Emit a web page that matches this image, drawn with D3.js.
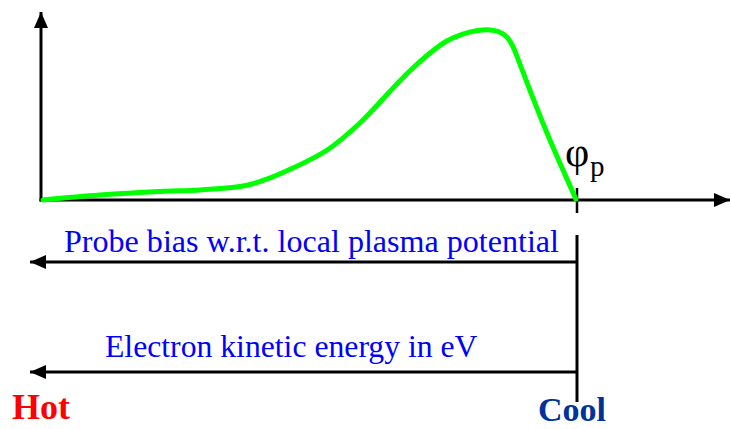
<!DOCTYPE html>
<html>
<head>
<meta charset="utf-8">
<script src="https://cdn.jsdelivr.net/npm/d3@7"></script>
<style>
  html, body { margin: 0; padding: 0; background: #fff; }
  svg { display: block; }
  text { font-family: "Liberation Serif", "Times New Roman", serif; }
</style>
</head>
<body>
<svg id="chart" width="730" height="429"></svg>
<script>
// Relative probe bias (0 = far negative, 100 = plasma potential φp)
const biasValues = [0.37, 11.0, 22.2, 29.7, 37.1, 41.2, 47.0, 53.4, 59.5, 65.7, 68.8, 72.6, 75.7, 78.7, 81.5, 83.8, 85.3, 86.9, 88.0, 89.0, 91.2, 94.4, 99.8];
// Relative electron energy distribution (peak = 100)
const eedfValues = [0, 2.9, 5.0, 5.9, 7.9, 11.2, 18.8, 29.4, 45.3, 65.9, 75.9, 86.5, 93.5, 97.6, 99.7, 100, 99.1, 95.9, 90.6, 82.9, 64.7, 39.4, 0.5];
const labels = {
  probe: "Probe bias w.r.t. local plasma potential",
  energy: "Electron kinetic energy in eV",
  hot: "Hot",
  cool: "Cool",
  phi: "φ",
  phiSub: "p"
};

const svg = d3.select("#chart");
const x = d3.scaleLinear().domain([0, 100]).range([41, 577]);
const y = d3.scaleLinear().domain([0, 100]).range([200, 30]);

const defs = svg.append("defs");
defs.append("marker")
  .attr("id", "arrowHead")
  .attr("viewBox", "0 0 16 14")
  .attr("refX", 16).attr("refY", 7)
  .attr("markerWidth", 16).attr("markerHeight", 14)
  .attr("markerUnits", "userSpaceOnUse")
  .attr("orient", "auto")
  .append("path").attr("d", "M0,0 L16,7 L0,14 Z").attr("fill", "#000");

const x0 = x(0), y0 = y(0), xP = x(100);

// axes
svg.append("line").attr("x1", x0).attr("y1", y0 + 1.5).attr("x2", x0).attr("y2", 12)
  .attr("stroke", "#000").attr("stroke-width", 3).attr("marker-end", "url(#arrowHead)");
svg.append("line").attr("x1", x0 - 1.5).attr("y1", y0).attr("x2", 730).attr("y2", y0)
  .attr("stroke", "#000").attr("stroke-width", 3).attr("marker-end", "url(#arrowHead)");

// tick at plasma potential
svg.append("line").attr("x1", xP).attr("x2", xP).attr("y1", y0 - 12).attr("y2", y0 + 13)
  .attr("stroke", "#000").attr("stroke-width", 2.5);

// vertical line below
svg.append("line").attr("x1", xP).attr("x2", xP).attr("y1", 235).attr("y2", 402)
  .attr("stroke", "#000").attr("stroke-width", 3);

// horizontal left arrows
[262, 372].forEach(yy => {
  svg.append("line").attr("x1", xP).attr("y1", yy).attr("x2", 30).attr("y2", yy)
    .attr("stroke", "#000").attr("stroke-width", 3).attr("marker-end", "url(#arrowHead)");
});

// curve
const pts = biasValues.map((b, i) => [b, eedfValues[i]]);
const line = d3.line().x(d => x(d[0])).y(d => y(d[1])).curve(d3.curveCatmullRom.alpha(0.5));
svg.append("path").datum(pts).attr("d", line)
  .attr("fill", "none").attr("stroke", "#00ff00").attr("stroke-width", 5)
  .attr("stroke-linejoin", "round").attr("stroke-linecap", "round");

// phi_p label
svg.append("text").attr("x", 565).attr("y", 166).attr("font-size", 42).attr("fill", "#000").text(labels.phi);
svg.append("text").attr("x", 590).attr("y", 176).attr("font-size", 29).attr("fill", "#000").text(labels.phiSub);

// texts
svg.append("text").attr("x", 64).attr("y", 252).attr("font-size", 32.1).attr("fill", "#0000ff").text(labels.probe);
svg.append("text").attr("x", 105).attr("y", 357).attr("font-size", 31.7).attr("fill", "#0000ff").text(labels.energy);
svg.append("text").attr("x", 12).attr("y", 419).attr("font-size", 36).attr("font-weight", "bold").attr("fill", "#ff0000").text(labels.hot);
svg.append("text").attr("x", 538).attr("y", 421).attr("font-size", 34).attr("font-weight", "bold").attr("fill", "#003399").text(labels.cool);
</script>
</body>
</html>
